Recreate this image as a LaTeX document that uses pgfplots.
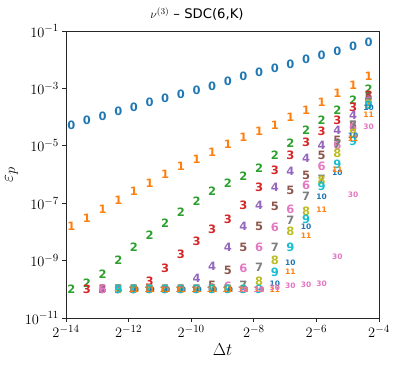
\documentclass[border=0pt]{standalone}
\usepackage{pgfplots}
\pgfplotsset{compat=1.18}
\usepackage{pgfplotstable}
\usepackage{fontspec}
\setsansfont{DejaVu Sans}

\definecolor{c0}{HTML}{1F77B4}
\definecolor{c1}{HTML}{FF7F0E}
\definecolor{c2}{HTML}{2CA02C}
\definecolor{c3}{HTML}{D62728}
\definecolor{c4}{HTML}{9467BD}
\definecolor{c5}{HTML}{8C564B}
\definecolor{c6}{HTML}{E377C2}
\definecolor{c7}{HTML}{7F7F7F}
\definecolor{c8}{HTML}{BCBD22}
\definecolor{c9}{HTML}{17BECF}

% error vs time step, one column per K (nan = not computed)
\pgfplotstableread{
x          s0       s1       s2        s3        s4        s5        s6        s7        s8        s9        s10       s11       s30
6.867e-5   5.25e-5  1.51e-8  1.00e-10  nan       nan       nan       nan       nan       nan       nan       nan       nan       nan
9.711e-5   7.94e-5  2.95e-8  1.62e-10  1.00e-10  nan       nan       nan       nan       nan       nan       nan       nan       nan
1.3734e-4  1.10e-4  6.17e-8  3.47e-10  1.00e-10  1.00e-10  1.00e-10  1.00e-10  nan       nan       nan       nan       nan       nan
1.9423e-4  1.62e-4  1.26e-7  1.00e-9   1.00e-10  1.00e-10  1.00e-10  1.00e-10  1.00e-10  1.00e-10  1.00e-10  nan       nan       nan
2.7468e-4  2.19e-4  2.51e-7  2.82e-9   1.00e-10  1.00e-10  1.00e-10  1.00e-10  1.00e-10  1.00e-10  1.00e-10  1.00e-10  1.00e-10  nan
3.8846e-4  3.16e-4  5.01e-7  7.41e-9   1.86e-10  1.00e-10  1.00e-10  1.00e-10  1.00e-10  1.00e-10  1.00e-10  1.00e-10  1.00e-10  nan
5.4937e-4  4.47e-4  9.77e-7  2.00e-8   5.37e-10  1.00e-10  1.00e-10  1.00e-10  1.00e-10  1.00e-10  1.00e-10  1.00e-10  1.00e-10  nan
7.7692e-4  6.31e-4  1.86e-6  4.90e-8   1.66e-9   1.00e-10  1.00e-10  1.00e-10  1.00e-10  1.00e-10  1.00e-10  1.00e-10  1.00e-10  nan
1.09874e-3 8.71e-4  3.47e-6  1.17e-7   4.79e-9   2.40e-10  1.00e-10  1.00e-10  1.00e-10  1.00e-10  1.00e-10  1.00e-10  1.00e-10  nan
1.55384e-3 1.23e-3  6.17e-6  2.57e-7   1.23e-8   6.46e-10  1.35e-10  1.00e-10  1.00e-10  1.00e-10  1.00e-10  1.00e-10  1.00e-10  nan
2.19748e-3 1.70e-3  1.12e-5  5.01e-7   2.75e-8   2.82e-9   4.47e-10  1.26e-10  1.00e-10  1.00e-10  1.00e-10  1.00e-10  1.00e-10  nan
3.10768e-3 2.57e-3  2.00e-5  8.91e-7   8.13e-8   1.62e-8   2.82e-9   5.37e-10  1.41e-10  1.00e-10  1.00e-10  1.00e-10  1.00e-10  1.00e-10
4.39496e-3 3.55e-3  3.31e-5  1.66e-6   3.55e-7   8.13e-8   1.62e-8   2.82e-9   5.62e-10  1.86e-10  1.00e-10  1.00e-10  1.00e-10  1.00e-10
6.21536e-3 5.01e-3  5.13e-5  4.68e-6   1.35e-6   3.47e-7   7.59e-8   1.41e-8   2.82e-9   1.00e-9   3.80e-10  1.62e-10  1.00e-10  1.15e-10
8.78992e-3 6.92e-3  9.55e-5  1.23e-5   4.79e-6   1.26e-6   2.75e-7   6.17e-8   2.57e-8   1.02e-8   2.88e-9   8.51e-10  3.98e-10  1.29e-10
1.243072e-2 1.02e-2 1.78e-4  3.55e-5   1.35e-5   3.80e-6   9.33e-7   4.27e-7   1.70e-7   5.37e-8   2.75e-8   1.51e-8   7.24e-9   1.41e-10
1.757984e-2 1.41e-2 3.31e-4  7.94e-5   3.31e-5   1.02e-5   4.79e-6   1.86e-6   7.08e-7   6.46e-7   3.98e-7   1.70e-7   5.75e-8   1.62e-10
2.486144e-2 2.00e-2 6.76e-4  1.78e-4   7.94e-5   3.55e-5   1.58e-5   1.07e-5   1.15e-5   5.50e-6   2.34e-6   1.15e-6   1.51e-6   1.32e-9
3.515968e-2 2.82e-2 1.32e-3  3.98e-4   2.14e-4   1.17e-4   5.25e-5   4.47e-5   5.25e-5   2.82e-5   1.48e-5   2.19e-5   1.82e-5   1.91e-7
4.972288e-2 4.07e-2 2.57e-3  9.33e-4   5.89e-4   3.80e-4   4.68e-4   3.47e-4   3.16e-4   2.82e-4   2.51e-4   2.04e-4   1.17e-4   4.68e-5
}\errtab

\pgfplotsset{
  num/.style 2 args={only marks, mark=text, text mark={#1}, text mark as node=true,
    color=#2, text mark style={font=\sffamily\bfseries\fontsize{11.5}{11.5}\selectfont, text=#2, inner sep=0pt}},
  smallnum/.style 2 args={only marks, mark=text, text mark={#1}, text mark as node=true,
    color=#2, text mark style={font=\sffamily\bfseries\fontsize{7.5}{7.5}\selectfont, text=#2, inner sep=0pt}},
}

\begin{document}
\begin{tikzpicture}
\begin{axis}[
    name=ax,
    scale only axis,
    width=313pt, height=287pt,
    xmode=log, ymode=log,
    log basis x=2, log basis y=10,
    xmin=6.103515625e-5, xmax=0.0625,
    ymin=1e-11, ymax=1e-1,
    xtick={6.103515625e-5,2.44140625e-4,9.765625e-4,3.90625e-3,1.5625e-2,6.25e-2},
    ytick={1e-11,1e-9,1e-7,1e-5,1e-3,1e-1},
    minor xtick={}, minor ytick={},
    tick align=outside, xtick pos=left, ytick pos=left,
    major tick length=3.5pt,
    axis line style={black!85, line width=0.9pt},
    tick style={black!85, line width=0.8pt},
    ticklabel style={font=\fontsize{15}{18}\selectfont},
    xlabel={$\Delta t$},
    ylabel={$\varepsilon_p$},
    label style={font=\fontsize{19}{22}\selectfont},
    title={$\nu^{(3)}$ – SDC(6,K)},
    title style={font=\sffamily\fontsize{13.2}{15}\selectfont, at={(0.4185,1)}, anchor=south, yshift=1pt},
    clip=false,
]
\addplot[num={0}{c0}] table[x=x, y=s0] {\errtab};
\addplot[num={1}{c1}] table[x=x, y=s1] {\errtab};
\addplot[num={2}{c2}] table[x=x, y=s2] {\errtab};
\addplot[num={3}{c3}] table[x=x, y=s3] {\errtab};
\addplot[num={4}{c4}] table[x=x, y=s4] {\errtab};
\addplot[num={5}{c5}] table[x=x, y=s5] {\errtab};
\addplot[num={6}{c6}] table[x=x, y=s6] {\errtab};
\addplot[num={7}{c7}] table[x=x, y=s7] {\errtab};
\addplot[num={8}{c8}] table[x=x, y=s8] {\errtab};
\addplot[num={9}{c9}] table[x=x, y=s9] {\errtab};
\addplot[smallnum={10}{c0}] table[x=x, y=s10] {\errtab};
\addplot[smallnum={11}{c1}] table[x=x, y=s11] {\errtab};
\addplot[smallnum={30}{c6}] table[x=x, y=s30] {\errtab};
\end{axis}
\path ([shift={(-66pt,-47pt)}]ax.south west) rectangle ++(397pt,365pt);
\end{tikzpicture}
\end{document}
